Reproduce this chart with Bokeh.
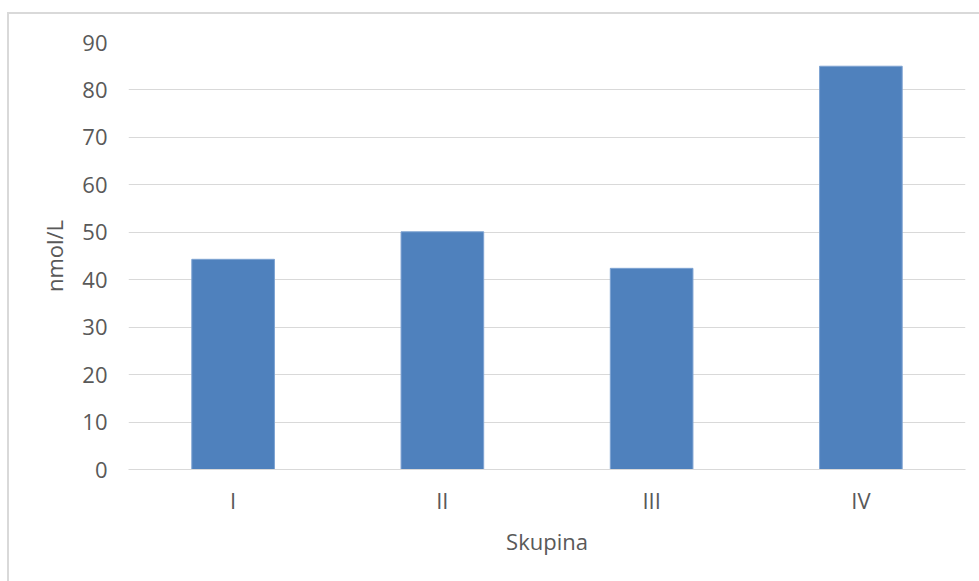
from bokeh.plotting import figure
from bokeh.models import Range1d
from bokeh.embed import file_html
from bokeh.resources import INLINE

categories = ["I", "II", "III", "IV"]
values = [44.3, 50.1, 42.4, 85.0]
y_ticks = [0, 10, 20, 30, 40, 50, 60, 70, 80, 90]

W, H = 979, 581
p = figure(x_range=categories, y_range=Range1d(0, 90), width=W, height=H,
           output_backend="svg", toolbar_location=None,
           min_border_left=128, min_border_right=14, min_border_top=42, min_border_bottom=112)
p.vbar(x=categories, top=values, width=0.395, fill_color="#4f81bd", line_color="#7ea3d2", line_width=1)

p.outline_line_color = None
p.background_fill_color = "white"
p.border_fill_color = None
p.styles = {
    "background": "linear-gradient(#d9d9d9,#d9d9d9) 7px 12px / 100% 2px no-repeat, "
                  "linear-gradient(#d9d9d9,#d9d9d9) 7px 12px / 2px 100% no-repeat, #ffffff"
}
p.xgrid.grid_line_color = None
p.ygrid.grid_line_color = "#d9d9d9"
p.ygrid.grid_line_width = 1
p.yaxis.ticker = y_ticks
p.yaxis.axis_line_color = None
p.yaxis.major_tick_line_color = None
p.yaxis.minor_tick_line_color = None
p.xaxis.axis_line_color = "#d9d9d9"
p.xaxis.major_tick_line_color = None
p.xaxis.minor_tick_line_color = None

font = "Open Sans"
for ax in (p.xaxis, p.yaxis):
    ax.major_label_text_font = font
    ax.major_label_text_font_size = "22px"
    ax.major_label_text_color = "#595959"
    ax.axis_label_text_font = font
    ax.axis_label_text_font_size = "22px"
    ax.axis_label_text_color = "#595959"
    ax.axis_label_text_font_style = "normal"

p.xaxis.axis_label = "Skupina"
p.yaxis.axis_label = "nmol/L"
p.yaxis.major_label_standoff = 15
p.xaxis.major_label_standoff = 9
p.xaxis.axis_label_standoff = 8
p.yaxis.axis_label_standoff = 10

open("out.html", "w").write(file_html(p, INLINE))
